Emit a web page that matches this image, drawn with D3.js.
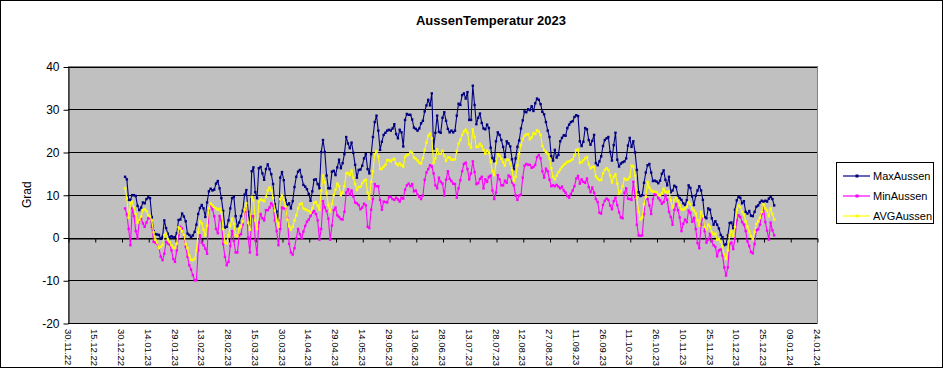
<!DOCTYPE html>
<html>
<head>
<meta charset="utf-8">
<title>AussenTemperatur 2023</title>
<script src="https://d3js.org/d3.v7.min.js"></script>
<style>
  body { margin: 0; background: #fff; }
  svg { display: block; font-family: Arial, "Liberation Sans", sans-serif; }
</style>
</head>
<body>
<svg width="943" height="368"></svg>
<script>
// ### Daten: ein Wert pro Tag ab 01.01.23 ###
var firstDay = "01.01.23";

var maxAussen = [
  14.2, 13.6, 8.8, 8.8, 9.9, 9.9, 9.7, 7.4, 6.4, 7.0,
  8.2, 8.0, 9.0, 9.4, 9.2, 4.8, 1.5, 0.8, 0.7, 0.6,
  -0.3, 0.2, 4.0, 2.2, 0.9, 0.0, 0.3, 0.0, 0.1, 1.0,
  4.1, 4.2, 5.6, 4.9, 3.8, 0.9, 0.6, 0.1, 0.5, 1.3,
  3.0, 5.5, 6.9, 7.6, 6.8, 4.8, 8.2, 10.8, 11.4, 11.0,
  11.2, 12.6, 13.2, 11.5, 9.2, 6.2, 2.3, 2.5, 4.0, 6.8,
  9.2, 9.5, 5.0, 2.6, 3.5, 5.0, 6.3, 10.0, 11.1, 6.0,
  2.8, 15.5, 16.4, 10.6, 9.2, 16.2, 16.5, 15.0, 13.5, 16.0,
  17.1, 16.0, 14.8, 12.5, 7.8, 6.1, 4.0, 14.0, 15.3, 13.4,
  8.8, 7.6, 8.0, 6.8, 8.5, 11.8, 14.2, 15.4, 15.8, 14.2,
  12.3, 11.9, 11.3, 10.2, 8.6, 10.8, 13.5, 13.6, 12.5, 11.5,
  20.0, 22.8, 20.0, 14.5, 11.5, 11.5, 15.4, 15.6, 14.6, 16.4,
  18.2, 16.2, 17.4, 19.5, 23.5, 22.0, 20.9, 22.2, 19.8, 17.0,
  14.0, 15.8, 15.9, 16.8, 18.5, 19.5, 16.0, 15.0, 19.5, 23.5,
  27.0, 28.5, 25.0, 20.5, 22.4, 24.0, 24.5, 25.0, 25.2, 25.0,
  25.5, 26.5, 24.2, 23.2, 25.2, 24.6, 21.3, 27.5, 28.9, 28.7,
  28.7, 27.6, 25.7, 25.4, 25.0, 25.5, 26.7, 27.3, 29.5, 30.9,
  32.2, 30.9, 33.7, 20.8, 24.5, 28.5, 24.7, 24.5, 28.0, 29.3,
  27.3, 25.4, 24.6, 25.0, 24.6, 25.0, 28.5, 31.3, 31.0, 33.3,
  33.7, 32.5, 34.0, 27.5, 27.5, 35.5, 31.0, 26.5, 28.0, 29.0,
  26.8, 25.5, 25.3, 26.4, 25.6, 21.0, 18.6, 17.8, 22.5, 24.6,
  24.0, 22.8, 21.2, 18.8, 22.5, 22.0, 21.3, 18.3, 16.0, 18.5,
  21.2, 22.7, 25.5, 27.4, 29.5, 29.3, 30.0, 29.8, 30.7, 29.6,
  31.4, 32.5, 32.2, 31.2, 29.4, 28.8, 27.0, 25.0, 23.5, 19.0,
  18.0, 20.5, 18.7, 19.3, 22.5, 23.3, 23.9, 23.8, 25.6, 26.4,
  27.0, 27.2, 28.2, 28.6, 28.4, 22.5, 21.4, 22.4, 25.6, 25.3,
  22.8, 21.7, 22.6, 24.0, 17.4, 16.9, 17.8, 19.0, 21.4, 22.8,
  23.2, 23.5, 20.0, 18.0, 21.6, 24.5, 18.2, 16.6, 17.3, 17.6,
  17.8, 18.5, 21.5, 23.3, 21.2, 22.5, 19.9, 15.8, 10.6, 9.7,
  9.9, 12.8, 15.2, 16.9, 17.2, 15.2, 13.2, 13.3, 13.1, 12.7,
  13.3, 14.9, 15.7, 13.5, 12.2, 14.2, 10.6, 11.0, 12.1, 11.8,
  9.8, 9.2, 8.8, 8.0, 7.6, 8.7, 12.2, 11.6, 9.6, 7.6,
  9.8, 11.0, 12.0, 11.0, 8.8, 4.8, 4.5, 6.8, 6.5, 4.5,
  3.0, 3.8, 3.0, 2.1, 0.6, 0.1, -1.8, -1.6, 0.5, 3.4,
  3.5, 2.2, 6.5, 8.7, 9.5, 9.3, 8.0, 8.5, 6.0, 5.6,
  6.2, 5.1, 5.0, 6.0, 7.2, 7.5, 8.2, 8.6, 8.4, 8.6,
  8.4, 9.1, 9.5, 9.0, 7.5
];

var minAussen = [
  6.8, 5.4, 2.0, -1.8, 6.8, 5.0, 1.5, -0.2, 4.0, 4.5,
  3.3, 2.5, 3.5, 4.5, 4.8, 2.5, -1.0, -1.2, -1.5, -2.5,
  -4.5, -5.3, -3.8, -1.0, -1.4, -1.6, -3.0, -5.0, -5.7, -3.0,
  0.5, 2.5, 2.1, 0.2, -2.2, -4.5, -6.5, -7.5, -8.8, -10.0,
  -10.0, -3.0, 0.5, -1.2, -1.8, -2.6, -3.8, 6.4, 7.5, 6.6,
  5.0, 2.0, 1.0, 5.0, 4.0, -1.5, -4.5, -6.5, -5.7, -2.0,
  1.5, -0.8, -3.5, -3.5, 0.5, 0.8, 3.0, 6.0, 7.2, 0.0,
  -3.5, 5.0, 5.0, -0.6, -4.0, 3.5, 5.5, 4.5, 4.0, 6.4,
  6.4, 7.0, 8.0, 7.5, 4.0, 1.5, -1.8, 2.0, 7.0, 6.8,
  6.8, 4.5, -1.5, -3.5, -4.0, -2.5, -0.2, 2.0, 0.8, -0.2,
  1.4, 2.7, 3.7, 4.2, 5.0, 5.8, 6.2, 5.5, 4.0, -0.5,
  2.0, 8.5, 7.0, 6.2, 4.4, -0.5, 2.8, 6.4, 7.0, 5.2,
  4.8, 4.3, 4.2, 6.0, 10.5, 11.3, 10.0, 11.0, 9.6, 8.2,
  8.0, 7.6, 6.6, 7.0, 7.9, 7.5, 2.5, 2.2, 6.5, 9.0,
  12.5, 12.0, 12.0, 8.8, 6.5, 8.4, 8.3, 8.2, 9.5, 9.5,
  9.0, 8.8, 9.3, 8.9, 8.4, 9.3, 9.1, 11.2, 12.2, 12.6,
  12.0, 12.5, 10.8, 11.0, 10.0, 9.5, 9.0, 9.8, 13.5, 15.2,
  16.0, 16.9, 16.6, 15.0, 12.2, 11.5, 14.0, 13.0, 12.6, 9.8,
  13.5, 15.5, 13.7, 13.2, 12.6, 12.5, 9.3, 11.5, 13.4, 15.5,
  17.2, 17.5, 16.0, 13.6, 15.0, 17.8, 15.3, 12.5, 12.7, 13.7,
  14.2, 11.5, 13.6, 13.0, 14.2, 14.5, 11.0, 9.0, 10.5, 14.6,
  13.6, 12.2, 12.2, 13.3, 12.8, 14.5, 14.2, 12.9, 12.2, 9.8,
  8.8, 9.8, 10.0, 14.0, 16.8, 17.2, 17.0, 17.0, 16.3, 16.5,
  17.0, 18.8, 19.3, 18.5, 15.5, 14.0, 16.1, 15.5, 13.5, 12.0,
  12.2, 12.0, 12.3, 11.9, 11.5, 11.9, 11.0, 10.5, 9.7, 9.3,
  10.2, 11.0, 12.0, 13.8, 14.4, 12.6, 13.6, 13.0, 12.8, 13.8,
  11.8, 10.6, 11.7, 10.5, 9.0, 8.3, 5.8, 5.6, 7.6, 8.6,
  9.1, 8.8, 7.5, 6.6, 8.5, 9.3, 7.6, 5.9, 4.7, 4.5,
  10.5, 11.5, 9.1, 9.0, 8.8, 13.0, 9.5, 3.0, 0.5, 0.4,
  0.5, 5.5, 9.8, 9.0, 7.5, 5.5, 9.0, 10.2, 10.0, 9.2,
  8.7, 7.9, 8.3, 9.8, 8.8, 6.0, 4.8, 3.0, 6.5, 7.8,
  6.4, 4.7, 1.5, 3.2, 4.2, 3.6, 6.3, 5.8, 3.7, 4.6,
  2.0, -1.3, -2.5, 3.0, 5.0, 1.5, -1.2, -0.5, 0.9, -0.8,
  -1.8, -2.2, -4.4, -3.0, -2.8, -4.2, -7.0, -8.9, -7.0, -1.5,
  -1.2, -2.7, -0.3, 4.0, 5.2, 4.8, 3.6, 3.0, 1.5, -0.9,
  -2.0, -3.4, -3.7, -1.5, 1.7, 1.9, 3.0, 5.5, 7.0, 3.6,
  1.6, -0.5, 3.5, 1.7, 0.5
];

var avgAussen = [
  11.5, 9.1, 4.6, 8.0, 8.4, 7.0, 5.5, 3.5, 4.1, 4.9,
  6.4, 6.6, 6.2, 5.2, 4.9, 4.0, 1.2, -0.5, -1.2, -2.5,
  -2.2, -1.8, 0.5, 0.9, -0.4, -1.1, -1.8, -2.3, -2.5, -1.4,
  2.4, 2.1, 1.5, 0.6, -1.5, -2.5, -4.2, -5.2, -5.3, -5.0,
  -3.0, 1.2, 3.8, 3.3, 1.8, 0.5, 2.8, 6.8, 8.0, 7.5,
  7.1, 6.8, 6.5, 6.7, 6.0, 2.0, -1.2, -1.4, 0.5, 2.8,
  4.4, 3.2, 0.5, 0.3, 2.1, 2.6, 3.8, 6.5, 8.0, 3.5,
  1.8, 9.5, 8.7, 4.0, 2.0, 8.4, 8.9, 8.7, 8.5, 9.5,
  11.0, 11.7, 11.0, 9.2, 6.3, 4.0, 2.5, 9.0, 9.8, 8.8,
  7.3, 4.2, 2.6, 1.8, 2.5, 4.0, 5.2, 6.8, 7.8, 8.0,
  6.8, 6.6, 6.4, 6.2, 5.8, 6.8, 8.1, 8.3, 7.5, 6.5,
  11.0, 14.5, 12.9, 10.3, 7.6, 6.1, 7.8, 9.9, 11.2, 12.6,
  12.0, 9.9, 10.5, 12.0, 15.0, 15.1, 14.6, 15.7, 14.0, 12.5,
  11.1, 11.8, 11.9, 12.7, 13.3, 13.5, 10.5, 9.0, 13.0, 15.5,
  19.5, 20.2, 19.0, 16.0, 16.1, 16.6, 17.0, 18.1, 18.1, 17.8,
  18.2, 18.4, 17.3, 16.9, 17.3, 16.9, 16.6, 18.9, 19.3, 19.4,
  20.1, 19.8, 18.7, 18.4, 18.0, 17.5, 17.3, 18.6, 20.5, 22.2,
  23.8, 24.3, 23.2, 17.5, 18.5, 20.6, 19.6, 19.6, 20.3, 19.2,
  17.9, 18.7, 18.7, 18.2, 18.2, 18.3, 20.2, 22.0, 22.8, 24.0,
  24.8, 25.2, 24.5, 21.8, 21.0, 25.3, 23.5, 21.2, 21.2, 21.9,
  21.4, 20.5, 19.6, 20.3, 19.8, 17.7, 15.5, 14.6, 17.4, 19.5,
  19.1, 18.4, 17.6, 16.8, 18.2, 18.2, 17.3, 15.8, 13.2, 14.2,
  16.9, 19.6, 21.6, 23.0, 23.8, 24.1, 24.2, 23.0, 23.4, 24.4,
  24.2, 25.1, 24.8, 24.0, 21.4, 20.5, 20.0, 19.6, 18.5, 16.2,
  14.2, 13.6, 14.5, 15.3, 15.9, 16.5, 17.0, 17.3, 17.7, 17.8,
  18.0, 18.3, 19.2, 20.5, 20.6, 17.5, 17.6, 18.1, 18.5, 18.8,
  17.1, 16.2, 16.6, 16.5, 14.3, 13.8, 13.4, 13.5, 15.0, 15.8,
  16.2, 15.8, 14.6, 12.9, 14.2, 14.8, 12.6, 10.2, 10.8, 12.0,
  13.8, 13.5, 13.6, 14.2, 16.8, 16.6, 14.5, 9.3, 6.0, 4.2,
  4.7, 7.8, 9.5, 13.0, 11.7, 11.0, 10.7, 10.7, 10.6, 10.0,
  9.9, 10.3, 11.4, 10.7, 10.5, 10.8, 8.7, 7.0, 8.8, 9.3,
  8.6, 7.6, 6.6, 6.5, 6.8, 7.2, 8.3, 7.8, 6.8, 6.3,
  5.6, 4.0, 2.8, 6.0, 5.0, 2.5, 1.9, 3.0, 2.5, 1.2,
  0.7, 0.9, -0.5, -0.4, -1.0, -2.0, -4.0, -5.0, -3.0, 0.5,
  1.5, 0.3, 2.5, 6.5, 7.5, 7.1, 6.0, 5.4, 3.8, 2.6,
  1.4, 0.3, -0.4, 1.3, 3.2, 3.8, 4.6, 6.0, 7.8, 6.8,
  6.3, 5.0, 6.8, 5.5, 4.2
];

var tickLabels = ["30.11.22","15.12.22","30.12.22","14.01.23","29.01.23","13.02.23",
  "28.02.23","15.03.23","30.03.23","14.04.23","29.04.23","14.05.23","29.05.23",
  "13.06.23","28.06.23","13.07.23","28.07.23","12.08.23","27.08.23","11.09.23",
  "26.09.23","11.10.23","26.10.23","10.11.23","25.11.23","10.12.23","25.12.23",
  "09.01.24","24.01.24"];
var yTicks = [-20, -10, 0, 10, 20, 30, 40];
var seriesNames = ["MaxAussen", "MinAussen", "AVGAussen"];
var seriesColors = ["#000080", "#ff00ff", "#ffff00"];

var parseDate = d3.utcParse("%d.%m.%y");
var tickDates = tickLabels.map(parseDate);
var start = parseDate(firstDay);

function toPoints(values) {
  return values.map(function(v, i) { return { date: d3.utcDay.offset(start, i), v: v }; });
}
var series = [maxAussen, minAussen, avgAussen].map(toPoints);

var svg = d3.select("svg");
var W = 943, H = 368;
var plot = { left: 68, right: 817, top: 66.5, bottom: 323 };

// Rahmen
svg.append("rect").attr("x", 0.5).attr("y", 0.5).attr("width", W - 1).attr("height", H - 1)
  .attr("fill", "#fff").attr("stroke", "#000");

var x = d3.scaleUtc()
  .domain([tickDates[0], tickDates[tickDates.length - 1]])
  .range([plot.left, plot.right]);
var y = d3.scaleLinear().domain([-20, 40]).range([plot.bottom, plot.top]);

svg.append("rect")
  .attr("x", plot.left).attr("y", plot.top)
  .attr("width", plot.right - plot.left).attr("height", plot.bottom - plot.top)
  .attr("fill", "#c0c0c0").attr("stroke", "#808080")
  .attr("shape-rendering", "crispEdges");

// Gitterlinien
svg.append("g").selectAll("line").data(yTicks).enter().append("line")
  .attr("x1", plot.left).attr("x2", plot.right)
  .attr("y1", function(d) { return Math.round(y(d)) + 0.5; })
  .attr("y2", function(d) { return Math.round(y(d)) + 0.5; })
  .attr("stroke", "#000");

// Y-Achse
var yAxis = svg.append("g")
  .attr("transform", "translate(" + (plot.left + 0.5) + ",0.5)")
  .call(d3.axisLeft(y).tickValues(yTicks).tickSize(5).tickPadding(4).tickSizeOuter(0)
    .tickFormat(function(d) { return String(d); }));
yAxis.selectAll("text").attr("font-size", 12).attr("fill", "#000").attr("font-family", null);
yAxis.select(".domain").attr("stroke", "#000");
yAxis.selectAll(".tick line").attr("stroke", "#000");

// X-Achse bei 0
var xAxis = svg.append("g")
  .attr("transform", "translate(0.5," + (Math.round(y(0)) + 0.5) + ")")
  .call(d3.axisBottom(x).tickValues(tickDates).tickSize(4).tickSizeOuter(0).tickFormat(""));
xAxis.select(".domain").attr("stroke", "#000");
xAxis.selectAll(".tick line").attr("stroke", "#000");

// X-Beschriftung unten, gedreht
svg.append("g").selectAll("text").data(tickDates).enter().append("text")
  .attr("transform", function(d) { return "translate(" + x(d) + "," + (plot.bottom + 6) + ") rotate(90)"; })
  .attr("dy", "0.35em")
  .attr("font-size", 9.5)
  .attr("text-anchor", "start")
  .text(function(d, i) { return tickLabels[i]; });

// Linien
var line = d3.line()
  .x(function(d) { return x(d.date); })
  .y(function(d) { return y(d.v); });

series.forEach(function(data, k) {
  svg.append("path")
    .datum(data)
    .attr("fill", "none")
    .attr("stroke", seriesColors[k])
    .attr("stroke-width", 1.1)
    .attr("stroke-linejoin", "round")
    .attr("d", line);
  svg.append("g").selectAll("rect").data(data).enter().append("rect")
    .attr("x", function(d) { return x(d.date) - 1.2; })
    .attr("y", function(d) { return y(d.v) - 1.2; })
    .attr("width", 2.4).attr("height", 2.4)
    .attr("fill", seriesColors[k]);
});

// Titel
svg.append("text")
  .attr("x", 491).attr("y", 25)
  .attr("text-anchor", "middle")
  .attr("font-size", 13).attr("font-weight", "bold")
  .text("AussenTemperatur 2023");

// Achsentitel
svg.append("text")
  .attr("transform", "translate(31," + y(10) + ") rotate(-90)")
  .attr("text-anchor", "middle")
  .attr("font-size", 12)
  .text("Grad");

// Legende
var legend = svg.append("g").attr("transform", "translate(836,162)");
legend.append("rect").attr("x", 0.5).attr("y", 0.5).attr("width", 97).attr("height", 61)
  .attr("fill", "#fff").attr("stroke", "#000");
seriesNames.forEach(function(name, k) {
  var ly = 14 + k * 20;
  legend.append("line").attr("x1", 7).attr("x2", 34).attr("y1", ly).attr("y2", ly)
    .attr("stroke", seriesColors[k]).attr("stroke-width", 1.2);
  legend.append("rect").attr("x", 19.5).attr("y", ly - 1.5).attr("width", 3).attr("height", 3)
    .attr("fill", seriesColors[k]);
  legend.append("text").attr("x", 37).attr("y", ly).attr("dy", "0.35em")
    .attr("font-size", 11).text(name);
});
</script>
</body>
</html>
